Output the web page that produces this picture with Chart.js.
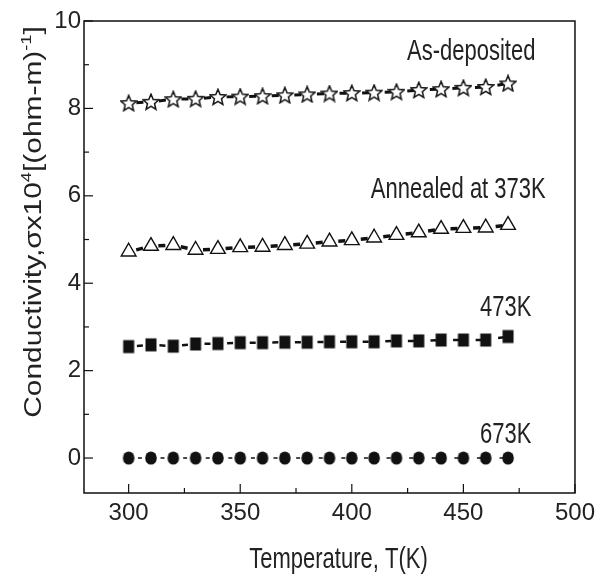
<!DOCTYPE html>
<html>
<head>
<meta charset="utf-8">
<script src="https://cdn.jsdelivr.net/npm/chart.js@4/dist/chart.umd.min.js"></script>
<style>
	html, body { margin: 0; padding: 0; background: #fff; }
	#wrap { width: 601px; height: 576px; }
</style>
</head>
<body>
<div id="wrap"><canvas id="grafico" width="601" height="576"></canvas></div>
<script>
// temperaturas (K)
const temperaturas = [300, 310, 320, 330, 340, 350, 360, 370, 380, 390, 400, 410, 420, 430, 440, 450, 460, 470]
// condutividade x10^4 (ohm-m)^-1
const asDeposited = [8.12, 8.15, 8.21, 8.22, 8.26, 8.27, 8.28, 8.30, 8.32, 8.34, 8.35, 8.36, 8.38, 8.42, 8.44, 8.47, 8.49, 8.57]
const annealed373 = [4.72, 4.85, 4.87, 4.76, 4.78, 4.82, 4.83, 4.87, 4.90, 4.95, 4.98, 5.04, 5.10, 5.16, 5.24, 5.26, 5.27, 5.33]
const annealed473 = [2.55, 2.59, 2.56, 2.61, 2.62, 2.64, 2.64, 2.65, 2.65, 2.66, 2.66, 2.66, 2.68, 2.68, 2.70, 2.70, 2.70, 2.78]
const annealed673 = [0, 0, 0, 0, 0, 0, 0, 0, 0, 0, 0, 0, 0, 0, 0, 0, 0, 0]
// rotulos das curvas (texto, T, sigma)
const rotulosTexto = ['As-deposited', 'Annealed at 373K', '473K', '673K']
const rotulosT = [453.5, 447.7, 469, 469]
const rotulosSigma = [9.29, 6.13, 3.43, 0.53]

const FONTE = "'Liberation Sans', Arial, sans-serif"
const FONTE_ESTREITA = "'Liberation Sans Narrow', 'Arial Narrow', 'Liberation Sans', sans-serif"

// marcadores desenhados em canvas pequenos
function criarMarcador(desenho) {
	const c = document.createElement('canvas')
	c.width = 18
	c.height = 18
	const g = c.getContext('2d')
	g.beginPath()
	desenho(g)
	g.closePath()
	return c
}
const estrela = criarMarcador(g => {
	for (let i = 0; i < 10; i++) {
		const r = i % 2 == 0 ? 8.3 : 3.7
		const a = -Math.PI / 2 + i * Math.PI / 5
		const px = 9 + r * Math.cos(a)
		const py = 9.6 + r * Math.sin(a)
		if (i == 0) g.moveTo(px, py)
		else g.lineTo(px, py)
	}
	g.closePath()
	g.fillStyle = '#fff'
	g.fill()
	g.lineWidth = 1.5
	g.strokeStyle = '#111'
	g.stroke()
})
const quadrado = criarMarcador(g => {
	g.fillStyle = '#111'
	g.fillRect(3.5, 2.5, 11, 13)
})
const bolinha = criarMarcador(g => {
	g.ellipse(9, 9, 5.8, 6.6, 0, 0, Math.PI * 2)
	g.fillStyle = '#111'
	g.fill()
})

const SEG = 22.6 // distancia entre pontos em px, para centrar o traco
function serie(dados, estilo, raio, fundo, espessura, traco) {
	return {
		data: temperaturas.map((t, i) => ({ x: t, y: dados[i] })),
		borderColor: '#111',
		borderWidth: espessura,
		borderDash: [traco, SEG - traco],
		borderDashOffset: SEG / 2 + traco / 2,
		pointStyle: estilo,
		pointRadius: raio,
		pointBackgroundColor: fundo,
		pointBorderColor: '#111',
		pointBorderWidth: 1.4,
		tension: 0,
		fill: false
	}
}

const moldura = {
	id: 'moldura',
	afterDraw(chart) {
		const ctx = chart.ctx
		const a = chart.chartArea
		const x = chart.scales.x
		const y = chart.scales.y
		ctx.save()
		ctx.strokeStyle = '#111'
		ctx.lineWidth = 1.5
		ctx.strokeRect(a.left, a.top, a.right - a.left, a.bottom - a.top)
		ctx.lineWidth = 1.2
		x.ticks.forEach(t => {
			const px = x.getPixelForValue(t.value)
			const len = t.value % 50 == 0 ? 9 : 5
			ctx.beginPath()
			ctx.moveTo(px, a.bottom)
			ctx.lineTo(px, a.bottom - len)
			ctx.stroke()
		})
		y.ticks.forEach(t => {
			const py = y.getPixelForValue(t.value)
			const len = t.value % 2 == 0 ? 9 : 5
			ctx.beginPath()
			ctx.moveTo(a.left, py)
			ctx.lineTo(a.left + len, py)
			ctx.stroke()
		})
		ctx.fillStyle = '#222'
		// titulo do eixo x
		ctx.save()
		ctx.translate((a.left + a.right) / 2 + 9, 560)
		ctx.scale(1, 1.3)
		ctx.font = '22px ' + FONTE
		ctx.textAlign = 'center'
		ctx.textBaseline = 'middle'
		ctx.fillText('Temperature, T(K)', 0, 0)
		ctx.restore()
		// titulo do eixo y com sobrescritos
		const partes = [['Conductivity,σx10', false], ['4', true], ['[(ohm-m)', false], ['-1', true], [']', false]]
		ctx.save()
		ctx.translate(35, 222)
		ctx.rotate(-Math.PI / 2)
		ctx.scale(1.3, 1)
		ctx.textBaseline = 'middle'
		ctx.textAlign = 'left'
		let total = 0
		partes.forEach(p => {
			ctx.font = (p[1] ? '14px ' : '23px ') + FONTE
			total += ctx.measureText(p[0]).width
		})
		let cx = -total / 2
		partes.forEach(p => {
			ctx.font = (p[1] ? '14px ' : '23px ') + FONTE
			ctx.fillText(p[0], cx, p[1] ? -8 : 0)
			cx += ctx.measureText(p[0]).width
		})
		ctx.restore()
		// rotulos das curvas
		rotulosTexto.forEach((txt, i) => {
			ctx.save()
			ctx.translate(x.getPixelForValue(rotulosT[i]), y.getPixelForValue(rotulosSigma[i]))
			ctx.scale(1, 1.3)
			ctx.font = '22px ' + FONTE
			ctx.textAlign = 'center'
			ctx.textBaseline = 'middle'
			ctx.fillText(txt, 0, 0)
			ctx.restore()
		})
		ctx.restore()
	}
}

const chart = new Chart(document.getElementById('grafico'), {
	type: 'line',
	data: {
		datasets: [
			serie(asDeposited, estrela, 8, '#fff', 3, 7),
			serie(annealed373, 'triangle', 8.5, '#fff', 3.5, 7),
			serie(annealed473, quadrado, 8, '#111', 2.5, 6),
			serie(annealed673, bolinha, 6, '#111', 1.5, 4)
		]
	},
	options: {
		responsive: false,
		animation: false,
		layout: { padding: { top: 21, right: 20, left: 0, bottom: 0 } },
		plugins: {
			legend: { display: false },
			tooltip: { enabled: false }
		},
		scales: {
			x: {
				type: 'linear',
				min: 280,
				max: 500,
				grid: { display: false, drawTicks: false, tickLength: 0 },
				border: { display: false },
				ticks: {
					stepSize: 25,
					includeBounds: false,
					autoSkip: false,
					maxRotation: 0,
					padding: 6,
					color: '#222',
					font: { family: FONTE_ESTREITA, size: 24 },
					callback: v => v % 50 == 0 ? v : ''
				},
				afterFit: s => { s.height = 83 }
			},
			y: {
				min: -0.8,
				max: 10,
				grid: { display: false, drawTicks: false, tickLength: 0 },
				border: { display: false },
				ticks: {
					stepSize: 1,
					includeBounds: false,
					autoSkip: false,
					padding: 3,
					color: '#222',
					font: { family: FONTE_ESTREITA, size: 24 },
					callback: v => v % 2 == 0 ? v : ''
				},
				afterFit: s => { s.width = 84 }
			}
		}
	},
	plugins: [moldura]
})
</script>
</body>
</html>
